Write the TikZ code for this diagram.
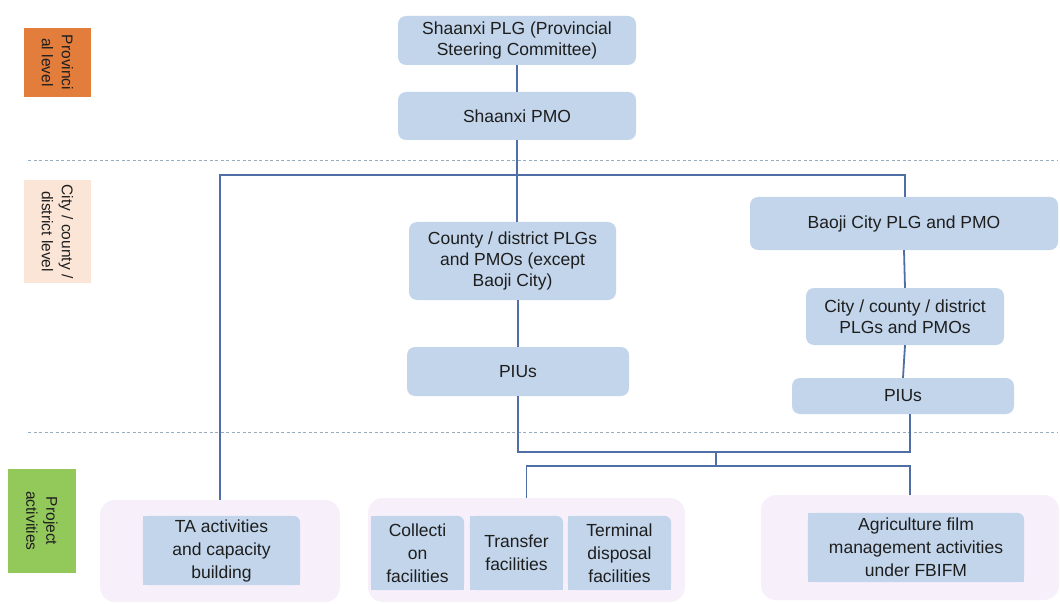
\documentclass[tikz,border=0pt]{standalone}
\usepackage{fontspec}
\setmainfont{Liberation Sans}
\definecolor{boxblue}{RGB}{194,213,235}
\definecolor{pinkbg}{RGB}{247,239,250}
\definecolor{linec}{RGB}{78,110,165}
\definecolor{sepc}{RGB}{150,172,192}
\definecolor{txt}{RGB}{30,30,30}
\definecolor{orangel}{RGB}{226,125,60}
\definecolor{peachl}{RGB}{250,229,214}
\definecolor{greenl}{RGB}{147,201,91}
\pgfdeclarelayer{bgzero}
\pgfdeclarelayer{bgone}
\pgfsetlayers{bgzero,bgone,main}
\newcommand\cornerfill[1]{%
  \fill[boxblue, rounded corners=7pt] (#1.south west) rectangle (#1.north east);
  \fill[boxblue] (#1.south west) rectangle ([xshift=-9pt]#1.north east);
  \fill[boxblue] (#1.south west) rectangle (#1.east);}
\begin{document}
\begin{tikzpicture}[x=1pt,y=-1pt,
  box/.style={fill=boxblue, rounded corners=8pt, align=center, inner sep=0pt, font=\fontsize{17.5}{21}\selectfont, text=txt},
  inbox/.style={align=center, inner sep=0pt, font=\fontsize{17.5}{23}\selectfont, text=txt},
  outerbox/.style={fill=pinkbg, rounded corners=15pt, inner sep=0pt},
  lvl/.style={rotate=-90, align=center, inner sep=0pt, font=\fontsize{15.5}{20}\selectfont, text=txt},
  link/.style={draw=linec, line width=1.8pt},
  sepline/.style={draw=sepc, line width=0.8pt, dash pattern=on 3pt off 2.5pt}]
\useasboundingbox (0,0) rectangle (1060,604);

% level labels
\node[lvl, fill=orangel, minimum width=69pt, minimum height=67pt] (prov) at (57.5,62.5) {Provinci\\al level};
\node[lvl, fill=peachl, minimum width=103pt, minimum height=67pt] (cityl) at (57.5,231.5) {City / county /\\district level};
\node[lvl, fill=greenl, minimum width=104pt, minimum height=68pt] (proj) at (42,521) {Project\\activities};

% separators
\draw[sepline] (28,160) -- (1058,160);
\draw[sepline] (28,432) -- (1058,432);

% top boxes
\node[box, minimum width=238pt, minimum height=49pt] (plg) at (517,40.5) {Shaanxi PLG (Provincial\\Steering Committee)};
\node[box, minimum width=238pt, minimum height=48pt] (pmo) at (517,116) {Shaanxi PMO};
\node[box, minimum width=207pt, minimum height=78pt] (county) at (512.5,261) {County / district PLGs\\and PMOs (except\\Baoji City)};
\node[box, minimum width=222pt, minimum height=49pt] (piua) at (518,371.5) {PIUs};
\node[box, minimum width=308pt, minimum height=53pt] (baoji) at (904,223.5) {Baoji City PLG and PMO};
\node[box, minimum width=198pt, minimum height=57pt] (city) at (905,316.5) {City / county / district\\PLGs and PMOs};
\node[box, minimum width=222pt, minimum height=36pt] (piub) at (903,396) {PIUs};

% outer activity groups
\begin{pgfonlayer}{bgzero}
\node[outerbox, minimum width=240pt, minimum height=102pt] (outa) at (220,551) {};
\node[outerbox, minimum width=317pt, minimum height=104pt] (outb) at (526.5,550) {};
\node[outerbox, minimum width=298pt, minimum height=105pt] (outc) at (910,547.5) {};
\end{pgfonlayer}

% inner activity boxes
\node[inbox, minimum width=157pt, minimum height=69pt] (ta) at (221.5,550.5) {TA activities\\and capacity\\building};
\node[inbox, minimum width=93pt, minimum height=74pt] (col) at (417.5,553) {Collecti\\on\\facilities};
\node[inbox, minimum width=93pt, minimum height=74pt] (tra) at (516.5,553) {Transfer\\facilities};
\node[inbox, minimum width=103pt, minimum height=74pt] (ter) at (619.5,553) {Terminal\\disposal\\facilities};
\node[inbox, minimum width=216pt, minimum height=69pt] (agr) at (916,547.5) {Agriculture film\\management activities\\under FBIFM};
\begin{pgfonlayer}{bgone}
\cornerfill{ta}
\cornerfill{col}
\cornerfill{tra}
\cornerfill{ter}
\cornerfill{agr}
\end{pgfonlayer}

% connectors
\coordinate (hl) at (220,175);
\coordinate (hr) at (905,175);
\coordinate (ma) at (716,452);
\coordinate (mb) at (716,466);
\draw[link] (plg) -- (pmo);
\draw[link] (pmo.south) -- (pmo.south |- county.north);
\draw[link] (outa.north) -- (hl) -- (hr) -- (hr |- baoji.north);
\draw[link] (baoji.south) -- (city.north);
\draw[link] (city.south) -- (piub.north);
\draw[link] (piua.north |- county.south) -- (piua.north);
\draw[link] (piua.south) -- (piua.south |- ma) -- (ma -| outc.north) -- (outc.north |- piub.south);
\draw[link] (ma) -- (mb);
\draw[link] (outb.north) -- (outb.north |- mb) -- (mb -| outc.north) -- (outc.north);
\end{tikzpicture}
\end{document}
